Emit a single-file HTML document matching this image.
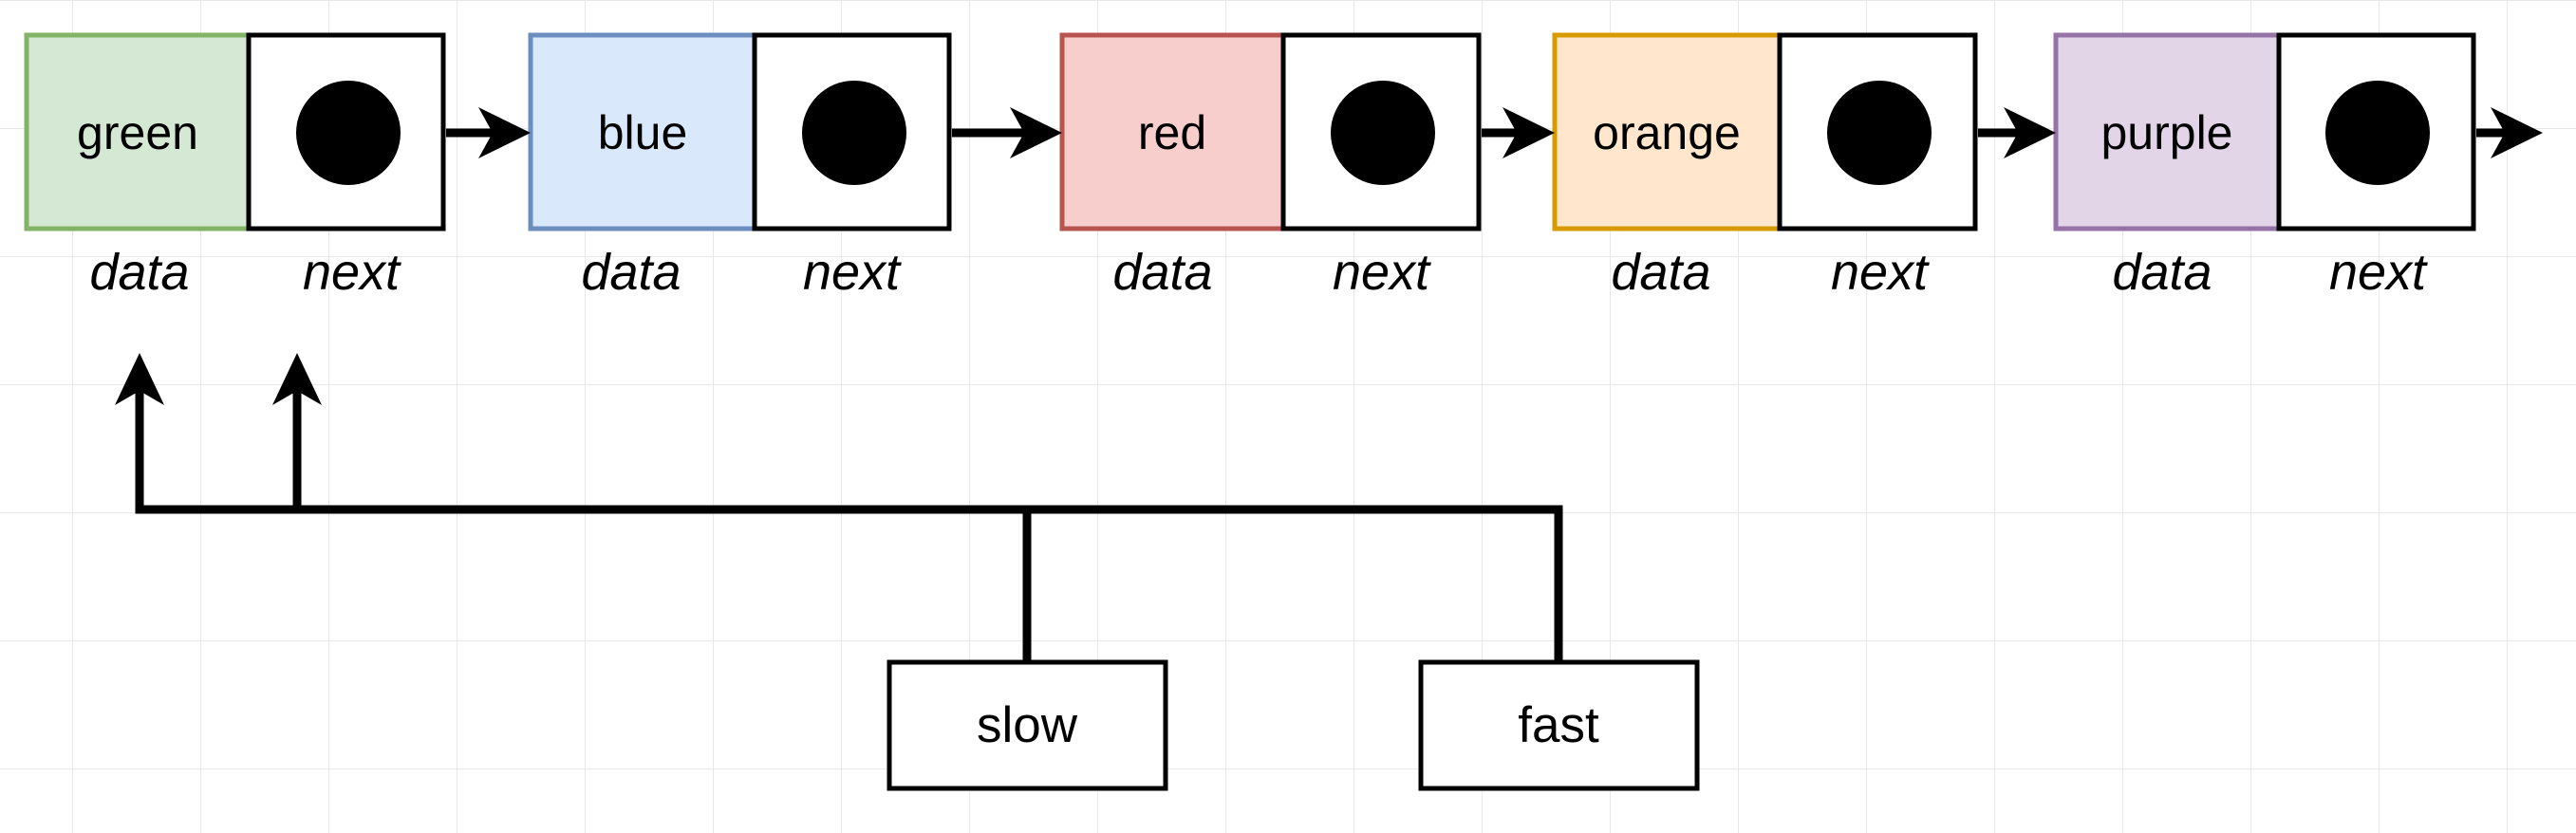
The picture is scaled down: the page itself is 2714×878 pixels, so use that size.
<!DOCTYPE html>
<html><head><meta charset="utf-8"><style>
html,body{margin:0;padding:0;background:#fff;}
svg{display:block;}
</style></head><body>
<svg width="2714" height="878" viewBox="0 0 2714 878" xmlns="http://www.w3.org/2000/svg" font-family="Liberation Sans, Arial, sans-serif">
<defs>
<pattern id="g" x="76" y="0" width="135" height="135" patternUnits="userSpaceOnUse">
<path d="M0 0 V135 M0 0 H135" stroke="#e8e8e8" stroke-width="2" fill="none"/>
</pattern>
</defs>
<rect width="2714" height="878" fill="url(#g)"/>

<g stroke-width="5">
<rect x="28" y="37" width="234" height="204" fill="#d5e8d4" stroke="#82b366"/>
<rect x="262" y="37" width="205" height="204" fill="#fff" stroke="#000"/>
<rect x="559" y="37" width="236" height="204" fill="#dae8fc" stroke="#6c8ebf"/>
<rect x="795" y="37" width="205" height="204" fill="#fff" stroke="#000"/>
<rect x="1119" y="37" width="233" height="204" fill="#f8cecc" stroke="#b85450"/>
<rect x="1352" y="37" width="206" height="204" fill="#fff" stroke="#000"/>
<rect x="1638" y="37" width="237" height="204" fill="#ffe6cc" stroke="#d79b00"/>
<rect x="1875" y="37" width="206" height="204" fill="#fff" stroke="#000"/>
<rect x="2166" y="37" width="235" height="204" fill="#e1d5e7" stroke="#9673a6"/>
<rect x="2401" y="37" width="205" height="204" fill="#fff" stroke="#000"/>
</g>
<g fill="#000">
<circle cx="367" cy="140" r="55"/>
<circle cx="900" cy="140" r="55"/>
<circle cx="1457" cy="140" r="55"/>
<circle cx="1980" cy="140" r="55"/>
<circle cx="2505" cy="140" r="55"/>
</g>
<g font-size="50" text-anchor="middle" fill="#000">
<text x="145" y="157">green</text>
<text x="677" y="157">blue</text>
<text x="1235" y="157">red</text>
<text x="1756" y="157">orange</text>
<text x="2283" y="157">purple</text>
</g>
<g font-size="54" font-style="italic" text-anchor="middle" fill="#000">
<text x="147" y="305">data</text><text x="370" y="305">next</text>
<text x="665" y="305">data</text><text x="897" y="305">next</text>
<text x="1225" y="305">data</text><text x="1455" y="305">next</text>
<text x="1750" y="305">data</text><text x="1980" y="305">next</text>
<text x="2278" y="305">data</text><text x="2505" y="305">next</text>
</g>

<g stroke="#000" stroke-width="9" fill="none">
<line x1="470" y1="140" x2="524" y2="140"/>
<line x1="1003" y1="140" x2="1084" y2="140"/>
<line x1="1561" y1="140" x2="1604" y2="140"/>
<line x1="2084" y1="140" x2="2129" y2="140"/>
<line x1="2609" y1="140" x2="2644" y2="140"/>
<polyline points="147,405 147,537 1642,537 1642,698"/>
<line x1="313" y1="537" x2="313" y2="405"/>
<line x1="1082" y1="537" x2="1082" y2="698"/>
</g>
<g fill="#000">
<path d="M559 140 L504 113 L519 140 L504 167 Z"/>
<path d="M1119 140 L1064 113 L1079 140 L1064 167 Z"/>
<path d="M1638 140 L1583 113 L1598 140 L1583 167 Z"/>
<path d="M2166 140 L2111 113 L2126 140 L2111 167 Z"/>
<path d="M2679 140 L2624 113 L2639 140 L2624 167 Z"/>
<path d="M147 372 L173 427 L147 412 L121 427 Z"/>
<path d="M313 372 L339 427 L313 412 L287 427 Z"/>
</g>

<g stroke="#000" stroke-width="5" fill="#fff">
<rect x="937" y="698" width="291" height="133"/>
<rect x="1497" y="698" width="291" height="133"/>
</g>
<g font-size="53" text-anchor="middle" fill="#000">
<text x="1082" y="782">slow</text>
<text x="1642" y="782">fast</text>
</g>
</svg>
</body></html>
